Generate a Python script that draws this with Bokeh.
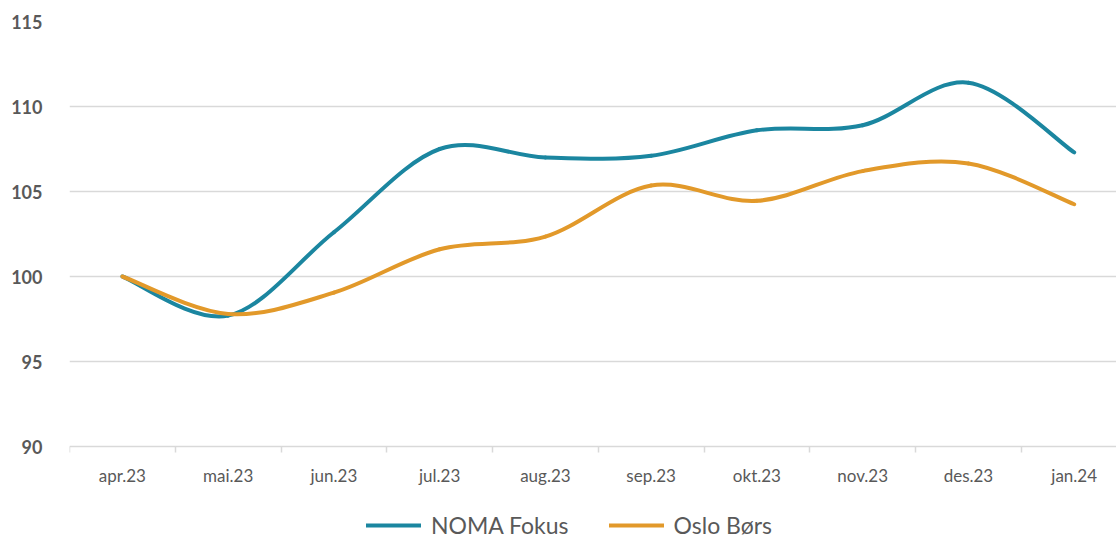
from bokeh.plotting import figure
from bokeh.models import FixedTicker, Legend, LegendItem, ColumnDataSource
from bokeh.embed import file_html
from bokeh.resources import INLINE

months = ["apr.23", "mai.23", "jun.23", "jul.23", "aug.23", "sep.23",
          "okt.23", "nov.23", "des.23", "jan.24"]
noma = [100.0, 97.7, 102.6, 107.5, 107.0, 107.1, 108.6, 108.9, 111.4, 107.3]
oslo = [100.0, 97.8, 99.05, 101.6, 102.35, 105.35, 104.45, 106.2, 106.65, 104.25]
y_ticks = [90, 95, 100, 105, 110, 115]

FONT = "Lato"
C_NOMA = "#1B86A0"
C_OSLO = "#E2992A"


def bezier_source(vals):
    # Excel-style smoothed line: Catmull-Rom segments as cubic beziers
    n = len(vals)
    xs = list(range(n))
    d = dict(x0=[], y0=[], x1=[], y1=[], cx0=[], cy0=[], cx1=[], cy1=[])
    for i in range(n - 1):
        im = max(i - 1, 0)
        ip2 = min(i + 2, n - 1)
        d["x0"].append(xs[i]); d["y0"].append(vals[i])
        d["x1"].append(xs[i + 1]); d["y1"].append(vals[i + 1])
        d["cx0"].append(xs[i] + (xs[i + 1] - xs[im]) / 6)
        d["cy0"].append(vals[i] + (vals[i + 1] - vals[im]) / 6)
        d["cx1"].append(xs[i + 1] - (xs[ip2] - xs[i]) / 6)
        d["cy1"].append(vals[i + 1] - (vals[ip2] - vals[i]) / 6)
    return ColumnDataSource(d)


# frame runs to the bottom edge; the x axis sits at y=90 (fixed_location)
p = figure(frame_width=1047, frame_height=518, x_range=(-0.5, 9.4),
           y_range=(115 - 518 / 17.0, 115), output_backend="svg",
           toolbar_location=None,
           min_border_left=69, min_border_right=0, min_border_top=21,
           min_border_bottom=0)
p.outline_line_color = None

r1 = p.bezier(x0="x0", y0="y0", x1="x1", y1="y1", cx0="cx0", cy0="cy0",
              cx1="cx1", cy1="cy1", source=bezier_source(noma),
              line_color=C_NOMA, line_width=4, line_cap="round")
r2 = p.bezier(x0="x0", y0="y0", x1="x1", y1="y1", cx0="cx0", cy0="cy0",
              cx1="cx1", cy1="cy1", source=bezier_source(oslo),
              line_color=C_OSLO, line_width=4, line_cap="round")

# x axis
xt = FixedTicker(ticks=list(range(len(months))),
                 minor_ticks=[i - 0.5 for i in range(len(months))])
p.xaxis.fixed_location = 90
p.xaxis.ticker = xt
p.xaxis.major_label_overrides = {i: m for i, m in enumerate(months)}
p.xaxis.major_tick_line_color = None
p.xaxis.minor_tick_line_color = "#D9D9D9"
p.xaxis.minor_tick_line_width = 1.5
p.xaxis.minor_tick_out = 6
p.xaxis.minor_tick_in = 0
p.xaxis.axis_line_color = "#D9D9D9"
p.xaxis.axis_line_width = 1.5
p.xaxis.major_label_text_font = FONT
p.xaxis.major_label_text_font_size = "17px"
p.xaxis.major_label_text_color = "#595959"
p.xaxis.major_label_standoff = 12
p.xgrid.grid_line_color = None

# y axis
p.yaxis.ticker = FixedTicker(ticks=y_ticks)
p.yaxis.axis_line_color = None
p.yaxis.major_tick_line_color = None
p.yaxis.minor_tick_line_color = None
p.yaxis.major_label_text_font = FONT
p.yaxis.major_label_text_font_size = "18px"
p.yaxis.major_label_text_font_style = "bold"
p.yaxis.major_label_text_color = "#595959"
p.yaxis.major_label_standoff = 21
p.ygrid.ticker = FixedTicker(ticks=y_ticks[1:])
p.ygrid.grid_line_color = "#D9D9D9"
p.ygrid.grid_line_width = 1.5

legend = Legend(items=[LegendItem(label="NOMA Fokus", renderers=[r1]),
                       LegendItem(label="Oslo Børs", renderers=[r2])],
                orientation="horizontal", location=(297, 0),
                label_text_font=FONT, label_text_font_size="23px",
                label_text_color="#595959", glyph_width=55, glyph_height=16,
                spacing=40, label_standoff=10, border_line_color=None,
                background_fill_alpha=0, margin=0, padding=0)
p.add_layout(legend, "center")

open("out.html", "w").write(file_html(p, INLINE))
